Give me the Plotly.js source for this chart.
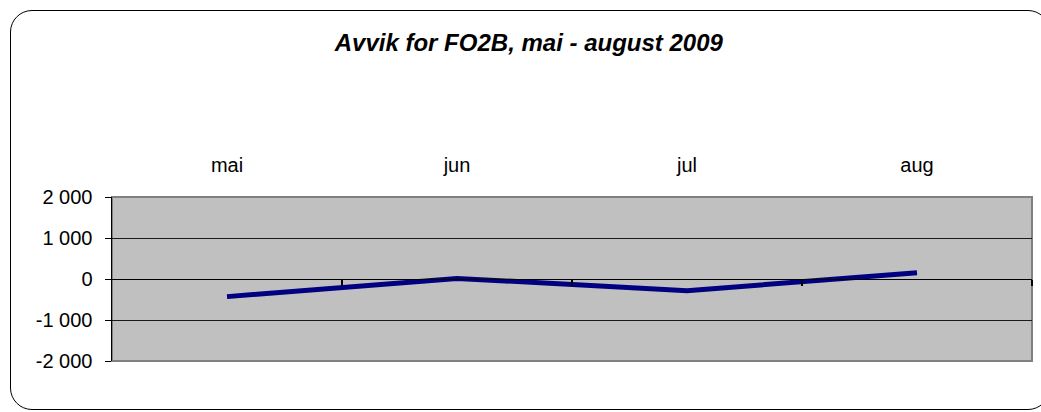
<!DOCTYPE html>
<html>
<head>
<meta charset="utf-8">
<script src="https://cdn.plot.ly/plotly-3.0.1.min.js"></script>
<style>
  html, body { margin: 0; padding: 0; background: #fff; }
  #wrap { position: relative; width: 1041px; height: 412px; overflow: hidden; }
  #chart { position: absolute; left: 0; top: 0; width: 1041px; height: 412px; }
  #frame { position: absolute; left: 10px; top: 10px; width: 1038px; height: 398px;
           box-sizing: content-box;
           border: 1.5px solid #000; border-radius: 22px; pointer-events: none; }
</style>
</head>
<body>
<div id="wrap">
  <div id="chart"></div>
  <div id="frame"></div>
</div>
<script>
const months = ['mai', 'jun', 'jul', 'aug'];
const avvik = [-430, 15, -285, 155];
const yTickVals = [-2000, -1000, 0, 1000, 2000];
const yTickText = ['-2 000', '-1 000', '0', '1 000', '2 000'];
const chartTitle = 'Avvik for FO2B, mai - august 2009';

const fontFam = 'Liberation Sans, Arial, sans-serif';
const monthIdx = months.map((_, i) => i);

const traces = [
  {
    // invisible copy so the zero-line category axis (xaxis2) is drawn
    type: 'scatter',
    mode: 'lines',
    x: monthIdx,
    y: avvik,
    xaxis: 'x2',
    yaxis: 'y',
    line: { color: 'rgba(0,0,0,0)', width: 0 },
    opacity: 0,
    hoverinfo: 'skip',
    showlegend: false
  },
  {
    type: 'scatter',
    mode: 'lines',
    x: months,
    y: avvik,
    xaxis: 'x',
    yaxis: 'y',
    line: { color: '#000080', width: 5 },
    hoverinfo: 'skip',
    showlegend: false
  }
];

const layout = {
  width: 1041,
  height: 412,
  margin: { l: 112, r: 9, t: 197, b: 51, pad: 0 },
  paper_bgcolor: '#ffffff',
  plot_bgcolor: '#C0C0C0',
  showlegend: false,
  title: {
    text: chartTitle,
    font: { family: fontFam, size: 24, color: '#000', weight: 'bold', style: 'italic' },
    xref: 'container', x: 0.508, xanchor: 'center',
    yref: 'container', y: 0.897, yanchor: 'middle'
  },
  xaxis: {
    type: 'category',
    categoryarray: months,
    range: [-0.5, months.length - 0.5],
    side: 'top',
    anchor: 'y',
    showline: false,
    ticks: '',
    showgrid: false,
    zeroline: false,
    tickfont: { family: fontFam, size: 20, color: '#000' },
    ticklabelstandoff: 20,
    fixedrange: true
  },
  xaxis2: {
    overlaying: 'x',
    anchor: 'free',
    position: 0.5,
    side: 'bottom',
    type: 'linear',
    range: [-0.5, months.length - 0.5],
    tickmode: 'array',
    tickvals: monthIdx.map(i => i + 0.5),
    showticklabels: false,
    ticks: 'outside',
    ticklen: 6,
    tickwidth: 1.5,
    tickcolor: '#000',
    showline: true,
    linecolor: '#000',
    linewidth: 1,
    showgrid: false,
    zeroline: false,
    fixedrange: true
  },
  yaxis: {
    range: [yTickVals[0], yTickVals[yTickVals.length - 1]],
    tickmode: 'array',
    tickvals: yTickVals,
    ticktext: yTickText,
    ticks: 'outside',
    ticklen: 6,
    tickwidth: 1,
    tickcolor: '#000',
    showline: true,
    linecolor: '#000',
    linewidth: 1.5,
    showgrid: true,
    gridcolor: '#1a1a1a',
    gridwidth: 1,
    zeroline: false,
    tickfont: { family: fontFam, size: 20, color: '#000' },
    ticklabelstandoff: 8,
    fixedrange: true
  },
  shapes: [{
    type: 'rect', xref: 'paper', yref: 'paper',
    x0: 0, x1: 1, y0: 0, y1: 1,
    line: { color: '#808080', width: 2 },
    fillcolor: 'rgba(0,0,0,0)',
    layer: 'between'
  }]
};

Plotly.newPlot('chart', traces, layout, { staticPlot: true, displayModeBar: false });
</script>
</body>
</html>
